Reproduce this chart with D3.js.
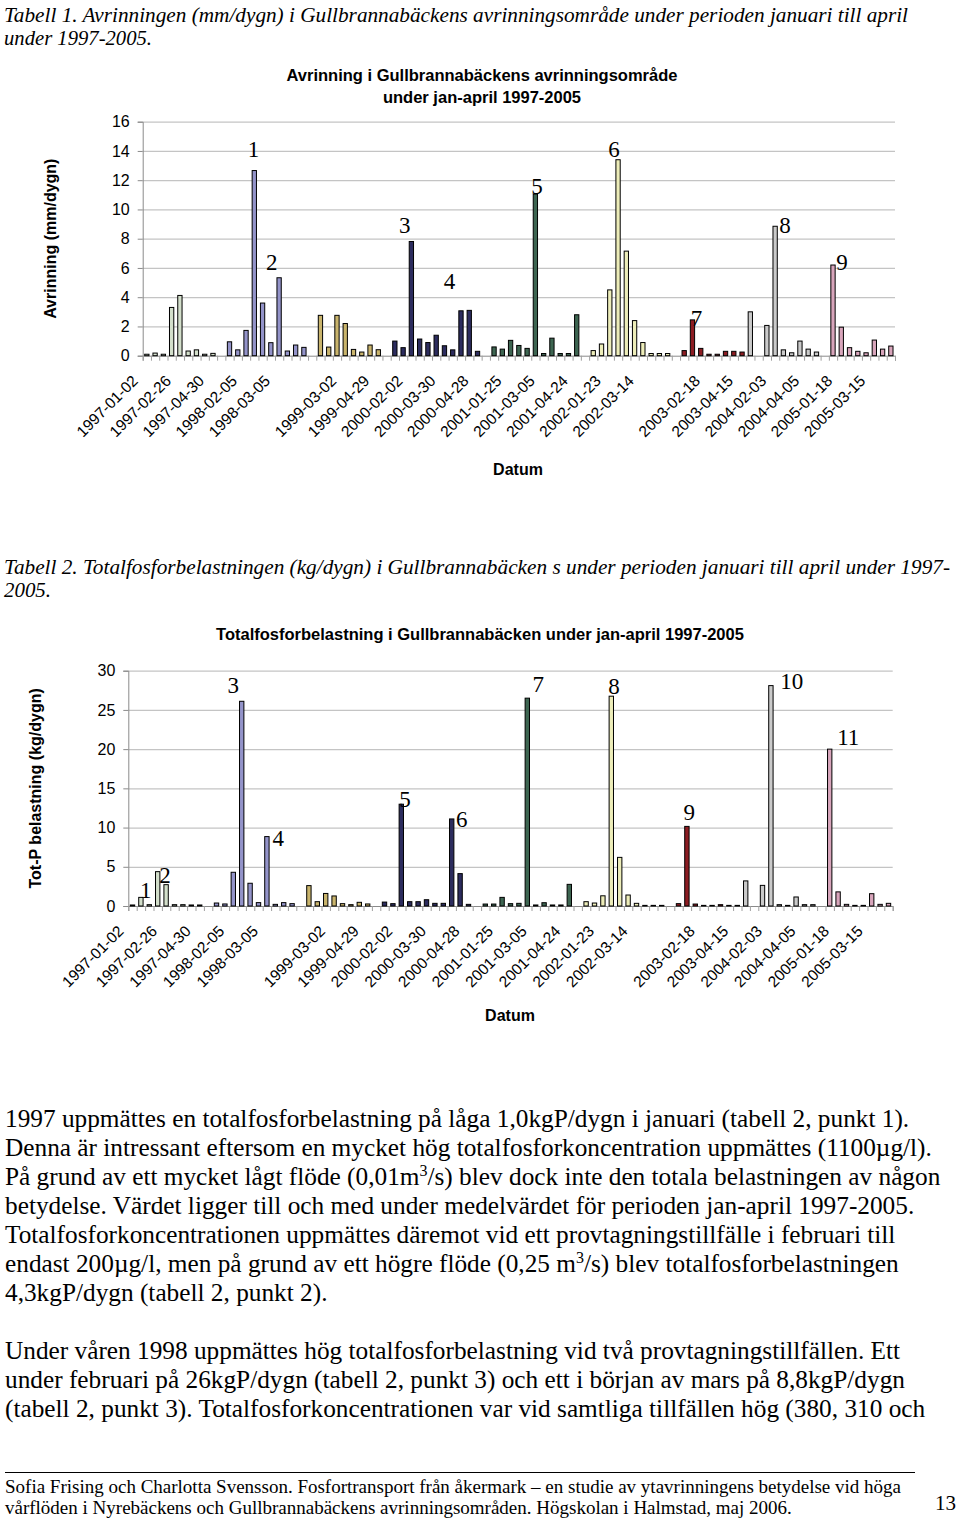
<!DOCTYPE html>
<html><head><meta charset="utf-8">
<script src="https://cdn.jsdelivr.net/npm/d3@7"></script>
<style>body{margin:0;background:#fff} svg{display:block}</style>
</head><body>
<svg id="page" width="960" height="1519"></svg>
<script>
// ---------- DATA ----------
const slotYear = [
 1997,1997,1997,1997,1997,1997,1997,1997,1997,null,
 1998,1998,1998,1998,1998,1998,1998,1998,1998,1998,null,
 1999,1999,1999,1999,1999,1999,1999,1999,null,
 2000,2000,2000,2000,2000,2000,2000,2000,2000,2000,2000,null,
 2001,2001,2001,2001,2001,2001,2001,2001,2001,2001,2001,null,
 2002,2002,2002,2002,2002,2002,2002,2002,2002,2002,null,
 2003,2003,2003,2003,2003,2003,2003,2003,
 2004,2004,2004,2004,2004,2004,2004,2004,2004,null,
 2005,2005,2005,2005,2005,2005,2005,2005];

const avrinning = [
 0.1,0.18,0.1,3.3,4.12,0.32,0.4,0.1,0.16,null,
 0.95,0.4,1.73,12.66,3.6,0.89,5.33,0.32,0.73,0.57,null,
 2.76,0.59,2.76,2.2,0.43,0.25,0.73,0.41,null,
 1.0,0.55,7.81,1.14,0.9,1.4,0.68,0.4,3.07,3.1,0.3,null,
 0.6,0.45,1.05,0.7,0.5,11.05,0.15,1.2,0.15,0.15,2.8,null,
 0.35,0.8,4.5,13.4,7.15,2.4,0.9,0.15,0.15,0.15,null,
 0.35,2.45,0.5,0.1,0.1,0.3,0.3,0.25,
 3.0,null,2.07,8.85,0.4,0.2,1.0,0.45,0.25,null,
 6.2,1.95,0.55,0.3,0.2,1.07,0.45,0.66];

const totP = [
 0.13,1.1,0.17,4.38,2.72,0.17,0.17,0.13,0.13,null,
 0.38,0.26,4.3,26.1,2.9,0.43,8.85,0.21,0.43,0.3,null,
 2.6,0.55,1.6,1.28,0.3,0.17,0.47,0.26,null,
 0.5,0.3,12.98,0.55,0.55,0.8,0.34,0.34,11.1,4.13,0.21,null,
 0.25,0.25,1.1,0.3,0.34,26.5,0.13,0.42,0.13,0.13,2.76,null,
 0.55,0.38,1.3,26.75,6.2,1.4,0.34,0.08,0.08,0.08,null,
 0.3,10.15,0.25,0.08,0.08,0.17,0.08,0.08,
 3.2,null,2.63,28.1,0.17,0.08,1.15,0.17,0.17,null,
 20.0,1.8,0.21,0.08,0.08,1.57,0.21,0.34];

const tickSlots = [0,4,8,12,16,24,28,32,36,40,44,48,52,56,60,68,72,76,80,84,88];
const tickLabels = ['1997-01-02','1997-02-26','1997-04-30','1998-02-05','1998-03-05',
 '1999-03-02','1999-04-29','2000-02-02','2000-03-30','2000-04-28','2001-01-25','2001-03-05',
 '2001-04-24','2002-01-23','2002-03-14','2003-02-18','2003-04-15','2004-02-03','2004-04-05',
 '2005-01-18','2005-03-15'];

const yTicks1 = [0,2,4,6,8,10,12,14,16];
const yTicks2 = [0,5,10,15,20,25,30];

const yearNames = [1997,1998,1999,2000,2001,2002,2003,2004,2005];
const yearColors = ['#d3dfcb','#9393c9','#c9b46c','#2c2c5e','#3d6551','#ededb9','#8c1c22','#cacaca','#d8a5bb'];

// annotation labels: text, slot position, value position
const notes1Text = ['1','2','3','4','5','6','7','8','9'];
const notes1Slot = [12.9,15.1,31.2,36.6,47.2,56.5,66.5,77.2,84.1];
const notes1Val  = [13.6,5.85,8.42,4.55,11.09,13.6,2.06,8.42,5.87];
const notes2Text = ['1','2','3','4','5','6','7','8','9','10','11'];
const notes2Slot = [1.57,3.87,12.0,17.36,32.44,39.19,48.31,57.32,66.29,78.48,85.21];
const notes2Val  = [1.08,2.87,27.22,7.68,12.56,10.01,27.31,27.09,10.99,27.73,20.55];

// ---------- DRAW ----------
const svg = d3.select('#page');
const color = d3.scaleOrdinal().domain(yearNames).range(yearColors);
const SANS = 'Liberation Sans, Arial, sans-serif';
const SERIF = 'Liberation Serif, Times New Roman, serif';

function chart(cfg){
  const g = svg.append('g');
  const idx = d3.range(cfg.values.length);
  const xb = d3.scaleBand().domain(idx).range([cfg.x0,cfg.x1]).paddingInner(0.48).paddingOuter(0.24);
  const xl = d3.scaleLinear().domain([-0.5, cfg.values.length-0.5]).range([cfg.x0,cfg.x1]);
  const y = d3.scaleLinear().domain([0,cfg.yMax]).range([cfg.yB,cfg.yT]);

  g.append('g').attr('transform',`translate(${cfg.x0},0)`)
    .call(d3.axisLeft(y).tickValues(cfg.yTicks.slice(1)).tickSize(-(cfg.x1-cfg.x0)).tickFormat(''))
    .call(a=>a.select('.domain').remove())
    .call(a=>a.selectAll('line').attr('stroke','#c4c4c4').attr('stroke-width',1.3));

  g.append('g').attr('transform',`translate(${cfg.x0},0)`)
    .call(d3.axisLeft(y).tickValues(cfg.yTicks).tickSize(5).tickPadding(8))
    .call(a=>a.select('.domain').attr('stroke','#8a8a8a'))
    .call(a=>a.selectAll('line').attr('stroke','#8a8a8a'))
    .call(a=>a.selectAll('text').attr('font-family',SANS).attr('font-size',16).attr('fill','#000'));

  g.append('g').attr('transform',`translate(0,${cfg.yB})`)
    .call(d3.axisBottom(xl).tickValues(d3.range(-0.5,cfg.values.length,1)).tickSize(5).tickFormat(''))
    .call(a=>a.select('.domain').attr('stroke','#8a8a8a'))
    .call(a=>a.selectAll('line').attr('stroke','#a0a0a0'));

  g.append('g').attr('transform',`translate(0,${cfg.yB})`)
    .call(d3.axisBottom(xb).tickValues(cfg.tickSlots).tickFormat((d)=>cfg.tickLabels[cfg.tickSlots.indexOf(d)]).tickSize(0))
    .call(a=>a.select('.domain').remove())
    .call(a=>a.selectAll('text')
      .attr('font-family',SANS).attr('font-size',15.5).attr('fill','#000')
      .attr('text-anchor','end').attr('dy',0)
      .attr('transform','translate(-10,24) rotate(-45)'));

  g.append('g').selectAll('rect').data(idx.filter(i=>cfg.values[i]!=null)).join('rect')
    .attr('x',i=>xb(i)).attr('width',xb.bandwidth())
    .attr('y',i=>y(cfg.values[i])).attr('height',i=>y(0)-y(cfg.values[i]))
    .attr('fill',i=>color(slotYear[i])).attr('stroke','#000').attr('stroke-width',1);

  g.append('g').selectAll('text').data(cfg.nText).join('text')
    .attr('x',(d,i)=>xl(cfg.nSlot[i])).attr('y',(d,i)=>y(cfg.nVal[i]))
    .attr('text-anchor','middle').attr('font-family',SERIF).attr('font-size',23).text(d=>d);

  cfg.title.forEach((t,i)=>{
    g.append('text').attr('x',cfg.titleX).attr('y',cfg.titleY+i*22).attr('text-anchor','middle')
     .attr('font-family',SANS).attr('font-weight','bold').attr('font-size',16.5).text(t);
  });
  g.append('text').attr('x',cfg.datumX).attr('y',cfg.datumY).attr('text-anchor','middle')
   .attr('font-family',SANS).attr('font-weight','bold').attr('font-size',16).text('Datum');
  g.append('text').attr('transform',`translate(${cfg.ylabX},${(cfg.yT+cfg.yB)/2}) rotate(-90)`)
   .attr('text-anchor','middle').attr('font-family',SANS).attr('font-weight','bold').attr('font-size',16).text(cfg.ylab);
}

function caption(lines, lens, y0){
  lines.forEach((t,i)=>svg.append('text').attr('x',4).attr('y',y0+i*23)
    .attr('font-family',SERIF).attr('font-style','italic').attr('font-size',21)
    .attr('textLength',lens[i]).attr('lengthAdjust','spacingAndGlyphs').text(t));
}
caption(['Tabell 1.  Avrinningen (mm/dygn) i Gullbrannabäckens avrinningsområde  under perioden januari till april','under 1997-2005.'],[904,148],22);

chart({values:avrinning,x0:142.7,x1:895,yT:121.7,yB:355.7,yMax:16,yTicks:yTicks1,
  tickSlots,tickLabels,nText:notes1Text,nSlot:notes1Slot,nVal:notes1Val,
  title:['Avrinning i Gullbrannabäckens avrinningsområde','under jan-april 1997-2005'],titleX:482,titleY:81,
  datumX:518,datumY:475,ylab:'Avrinning (mm/dygn)',ylabX:56});

caption(['Tabell 2.  Totalfosforbelastningen (kg/dygn) i Gullbrannabäcken s under perioden januari till april under 1997-','2005.'],[946,47],574);

chart({values:totP,x0:128.3,x1:892.7,yT:670.7,yB:906,yMax:30,yTicks:yTicks2,
  tickSlots,tickLabels,nText:notes2Text,nSlot:notes2Slot,nVal:notes2Val,
  title:['Totalfosforbelastning i Gullbrannabäcken under jan-april 1997-2005'],titleX:480,titleY:640,
  datumX:510,datumY:1021,ylab:'Tot-P belastning (kg/dygn)',ylabX:41});

const BODY = 25.3;
const body = [
 ['1997 uppmättes en totalfosforbelastning på låga 1,0kgP/dygn i januari (tabell 2, punkt 1).'],
 ['Denna är intressant eftersom en mycket hög totalfosforkoncentration uppmättes (1100µg/l).'],
 ['På grund av ett mycket lågt flöde (0,01m','3','/s) blev dock inte den totala belastningen av någon'],
 ['betydelse. Värdet ligger till och med under medelvärdet för perioden jan-april 1997-2005.'],
 ['Totalfosforkoncentrationen uppmättes däremot vid ett provtagningstillfälle i februari till'],
 ['endast 200µg/l, men på grund av ett högre flöde (0,25 m','3','/s) blev totalfosforbelastningen'],
 ['4,3kgP/dygn (tabell 2, punkt 2).'],
 null,
 ['Under våren 1998 uppmättes hög totalfosforbelastning vid två provtagningstillfällen. Ett'],
 ['under februari på 26kgP/dygn (tabell 2, punkt 3) och ett i början av mars på 8,8kgP/dygn'],
 ['(tabell 2, punkt 3). Totalfosforkoncentrationen var vid samtliga tillfällen hög (380, 310 och']
];
body.forEach((parts,i)=>{
  if(!parts) return;
  const t = svg.append('text').attr('x',5).attr('y',1127+i*29)
    .attr('font-family',SERIF).attr('font-size',BODY);
  parts.forEach((p,j)=>{
    const sup = j%2===1;
    t.append('tspan').attr('dy',sup?-9:(j>0?9:0)).attr('font-size',sup?16:BODY).text(p);
  });
});

svg.append('line').attr('x1',5).attr('x2',915).attr('y1',1472.5).attr('y2',1472.5).attr('stroke','#000').attr('stroke-width',1);
svg.append('text').attr('x',5).attr('y',1493).attr('font-family',SERIF).attr('font-size',19)
  .text('Sofia Frising och Charlotta Svensson. Fosfortransport från åkermark – en studie av ytavrinningens betydelse vid höga');
svg.append('text').attr('x',5).attr('y',1514).attr('font-family',SERIF).attr('font-size',19)
  .text('vårflöden i Nyrebäckens och Gullbrannabäckens avrinningsområden. Högskolan i Halmstad, maj 2006.');
svg.append('text').attr('x',935).attr('y',1510).attr('font-family',SERIF).attr('font-size',21).text('13');
</script>
</body></html>
